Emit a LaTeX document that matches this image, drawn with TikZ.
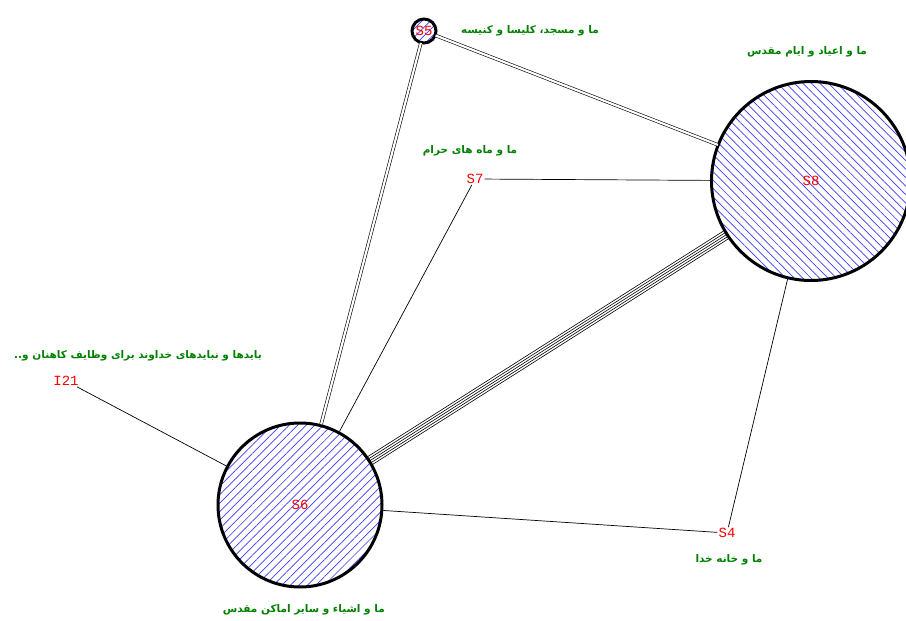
\documentclass[tikz,border=0pt]{standalone}
\usepackage{fontspec}
\newfontfamily\arabicfont[Script=Arabic]{DejaVu Sans}
\newfontfamily\idfont{Liberation Mono}
\TeXXeTstate=1
\usetikzlibrary{calc,patterns.meta,backgrounds}
\definecolor{idred}{RGB}{255,0,0}
\definecolor{labgreen}{RGB}{0,128,0}
\definecolor{hatchblue}{RGB}{60,60,255}

\begin{document}
\begin{tikzpicture}[x=1pt,y=-1pt,
  actor/.style={circle,draw=black,line width=3pt,minimum size=#1,inner sep=0pt,
    preaction={fill=white},pattern color=hatchblue,text=idred,
    font=\idfont\fontsize{14}{14}\selectfont},
  hatchne/.style={pattern={Lines[angle=45,distance=6pt,line width=0.7pt]}},
  hatchnw/.style={pattern={Lines[angle=-45,distance=6pt,line width=0.7pt]}},
  point/.style={inner sep=1pt,text=idred,font=\idfont\fontsize{14}{14}\selectfont},
  lab/.style={text=labgreen,inner sep=0pt,font=\arabicfont\bfseries\fontsize{10.5}{12}\selectfont},
  tie/.style={line width=0.7pt},
  twotie/.style={double,double distance=2.2pt,line width=0.6pt}]
\useasboundingbox (0,0) rectangle (906,621);
\def\gap{2.3pt}
% actors
\node[actor=24pt,hatchne] (s5) at (424,31) {S5};
\node[actor=199pt,hatchnw] (s8) at (811,181) {S8};
\node[actor=164pt,hatchne] (s6) at (300,505) {S6};
\node[point] (s7) at (475,179) {S7};
\node[point] (i21) at (66,381) {I21};
\node[point] (s4) at (727,533) {S4};
% labels
\foreach \n/\x/\y/\t in {
s5/530/31/{ما و مسجد، کلیسا و کنیسه},
s8/807/52/{ما و اعیاد و ایام مقدس},
s7/470/151/{ما و ماه های حرام},
i21/138/356/{بایدها و نبایدهای خداوند برای وظایف کاهنان و..},
s4/729/560/{ما و خانه خدا},
s6/302/610/{ما و اشیاء و سایر اماکن مقدس}
}{
\node[lab] (\n lab) at (\x,\y) {\beginR\t\endR};
}
% ties
\draw[twotie] (s5) -- (s8);
\draw[twotie] (s5) -- (s6);
\draw[tie] (s7) -- (s8);
\draw[tie] (s7) -- (s6);
\draw[tie] (i21) -- (s6);
\draw[tie] (s4) -- (s6);
\draw[tie] (s4) -- (s8);
\begin{scope}[on background layer]
\foreach \k in {-2,...,2}
  \draw[tie,line width=0.6pt] ($(s6.center)!\k*\gap!90:(s8.center)$)--($(s8.center)!\k*\gap!-90:(s6.center)$);
\end{scope}
\end{tikzpicture}
\end{document}
